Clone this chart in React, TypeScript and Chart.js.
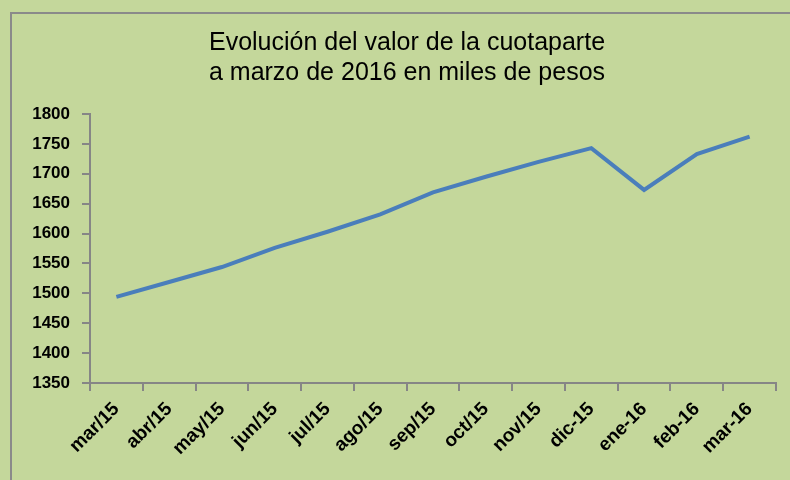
import React, { useEffect, useRef } from "react";
import { Chart, registerables } from "chart.js";

Chart.register(...registerables);

const categories = ["mar/15", "abr/15", "may/15", "jun/15", "jul/15", "ago/15", "sep/15", "oct/15", "nov/15", "dic-15", "ene-16", "feb-16", "mar-16"];
const values = [1494, 1519, 1544, 1576, 1603, 1632, 1669, 1695, 1720, 1743, 1673, 1733, 1762];
const titleLines = ["Evolución del valor de la cuotaparte", "a marzo de 2016 en miles de pesos"];
const yMin = 1350;
const yMax = 1800;
const yStep = 50;

const FONT = "'Liberation Sans Narrow', 'Liberation Sans', Arial, sans-serif";
const TICK_FONT = "'Liberation Sans', Arial, sans-serif";

export default function App() {
  const ref = useRef<HTMLCanvasElement | null>(null);
  useEffect(() => {
    if (!ref.current) return;
    const chart = new Chart(ref.current, {
      type: "line",
      data: {
        labels: categories,
        datasets: [
          {
            data: values,
            borderColor: "#4a7ebb",
            borderWidth: 4,
            pointRadius: 0,
            tension: 0,
            fill: false,
          },
        ],
      },
      options: {
        responsive: false,
        animation: false,
        layout: { padding: { left: 24, right: 0, top: 0, bottom: 0 } },
        plugins: {
          legend: { display: false },
          tooltip: { enabled: false },
          title: {
            display: true,
            text: titleLines,
            color: "#000",
            font: { family: FONT, size: 25, weight: "normal", lineHeight: 1.2 },
            padding: { top: 28, bottom: 26 },
          },
        },
        scales: {
          x: {
            type: "category",
            offset: true,
            afterFit: (s: any) => {
              s.height = 97;
            },
            grid: { offset: true, drawOnChartArea: false, drawTicks: true, tickLength: 8, color: "#868686", lineWidth: 2 },
            border: { color: "#868686", width: 2 },
            ticks: {
              autoSkip: false,
              maxRotation: 45,
              minRotation: 45,
              color: "#000",
              padding: 7,
              font: { family: TICK_FONT, size: 19, weight: "bold" },
            },
          },
          y: {
            min: yMin,
            max: yMax,
            afterFit: (s: any) => {
              s.width = 66;
            },
            grid: { drawOnChartArea: false, drawTicks: true, tickLength: 8, color: "#868686", lineWidth: 2 },
            border: { color: "#868686", width: 2 },
            ticks: {
              stepSize: yStep,
              color: "#000",
              padding: 12,
              font: { family: TICK_FONT, size: 17, weight: "bold" },
              callback: (v: any) => String(v),
            },
          },
          yRight: {
            position: "right",
            min: yMin,
            max: yMax,
            afterFit: (s: any) => {
              s.width = 14;
            },
            grid: { display: false },
            border: { display: false },
            ticks: { display: false },
          },
        },
      },
    });
    return () => chart.destroy();
  }, []);
  return (
    <div style={{ position: "absolute", left: 0, top: 0, width: 790, height: 480, background: "#c4d79b", overflow: "hidden" }}>
      <div style={{ position: "absolute", left: 10, top: 12, width: 820, height: 520, border: "2px solid #8a8a8a" }} />
      <canvas ref={ref} width={790} height={480} style={{ position: "absolute", left: 0, top: 0 }} />
    </div>
  );
}
